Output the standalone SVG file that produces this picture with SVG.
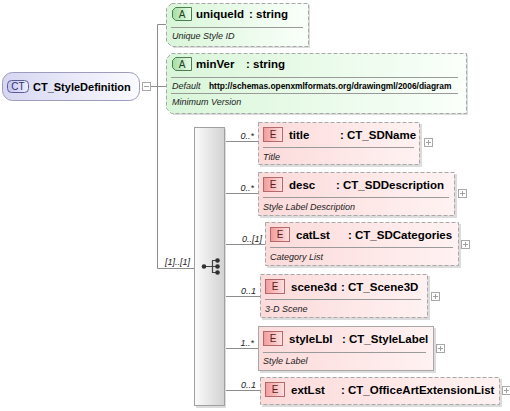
<svg xmlns="http://www.w3.org/2000/svg" width="510" height="411" viewBox="0 0 510 411">
<defs>
<linearGradient id="gElem" x1="0" y1="0" x2="1" y2="0"><stop offset="0" stop-color="#FCDADA"/><stop offset="1" stop-color="#FFF2F2"/></linearGradient>
<linearGradient id="gAttr" x1="0" y1="0" x2="1" y2="0"><stop offset="0" stop-color="#D9F6D9"/><stop offset="1" stop-color="#FAFFFA"/></linearGradient>
<linearGradient id="gRoot" x1="0" y1="0" x2="1" y2="0"><stop offset="0" stop-color="#D6D6F2"/><stop offset="1" stop-color="#FAFAFF"/></linearGradient>
<linearGradient id="gE" x1="0" y1="0" x2="1" y2="0"><stop offset="0" stop-color="#F29A9A"/><stop offset="1" stop-color="#FFE2E2"/></linearGradient>
<linearGradient id="gA" x1="0" y1="0" x2="1" y2="0"><stop offset="0" stop-color="#A4DCA4"/><stop offset="1" stop-color="#EAFFEA"/></linearGradient>
<linearGradient id="gCT" x1="0" y1="0" x2="1" y2="0"><stop offset="0" stop-color="#C4C4EE"/><stop offset="1" stop-color="#EEEEFF"/></linearGradient>
<linearGradient id="gSeq" x1="0" y1="0" x2="1" y2="0"><stop offset="0" stop-color="#FBFBFB"/><stop offset="1" stop-color="#D2D2D2"/></linearGradient>
</defs>
<style>
.t{font-family:"Liberation Sans",Arial,sans-serif;font-weight:bold;font-size:11.5px;fill:#000}
.d{font-family:"Liberation Sans",Arial,sans-serif;font-style:italic;font-size:9px;fill:#222}
.c{font-family:"Liberation Sans",Arial,sans-serif;font-style:italic;font-size:9px;fill:#222}
.u{font-family:"Liberation Sans",Arial,sans-serif;font-weight:bold;font-size:8.4px;fill:#000}
.bl{font-family:"Liberation Sans",Arial,sans-serif;font-size:10px;text-anchor:middle}
.eb{fill:url(#gElem);stroke:#A8A8A8;stroke-dasharray:4,2}
.es{fill:url(#gElem);stroke:#A8A8A8}
.ab{fill:url(#gAttr);stroke:#A8A8A8;stroke-dasharray:4,2}
.sh{fill:#DCDCDC}
.ln{stroke:#8C8C8C;stroke-width:1;fill:none}
.sep{stroke:#9A9A9A;stroke-width:1}
.ebadge{fill:url(#gE);stroke:#B46A6A}
.abadge{fill:url(#gA);stroke:#4E7E4E}
.pm{fill:#FFFFFF;stroke:#A8A8A8}
.pmi{stroke:#A0A0A0;stroke-width:1}
</style>

<g id="connectors">
<path class="ln" d="M150.5,86.5H157.5M157.5,24.5V268.5M157.5,24.5H166M157.5,86.5H166M157.5,268.5H194"/>
<path class="ln" d="M224,141.5H258M224,193.5H258M224,244.5H265M224,296.5H260M224,348.5H258M224,390.5H260"/>
<text class="c" x="190" y="265" text-anchor="end">[1]..[1]</text>
<text class="c" x="254" y="139" text-anchor="end">0..*</text>
<text class="c" x="254" y="191" text-anchor="end">0..*</text>
<text class="c" x="262" y="242" text-anchor="end">0..[1]</text>
<text class="c" x="256" y="294" text-anchor="end">0..1</text>
<text class="c" x="254" y="346" text-anchor="end">1..*</text>
<text class="c" x="256" y="388" text-anchor="end">0..1</text>
</g>

<g id="root">
<rect x="2.5" y="72.5" width="137" height="28" rx="10" fill="url(#gRoot)" stroke="#9C9CBC"/>
<rect x="7.5" y="80.5" width="21" height="12" rx="4" fill="url(#gCT)" stroke="#5C5C9C"/>
<text class="bl" x="18" y="90" fill="#30306A">CT</text>
<text class="t" x="33" y="90.5" style="font-size:11px">CT_StyleDefinition</text>
<rect class="pm" x="142.5" y="82.5" width="8" height="8"/>
<path class="pmi" d="M144,86.5H149"/>
</g>

<g id="uniqueId" transform="translate(166,3)">
<path class="sh" d="M7,2H144V45H7Z"/>
<path class="ab" d="M5.5,0.5H142.5V43.5H5.5L0.5,38.5V5.5Z"/>
<path class="abadge" d="M9.5,4.5H25.5V17.5H9.5L6.5,14.5V7.5Z"/>
<text class="bl" x="16" y="15" fill="#204020">A</text>
<text class="t" x="30" y="15">uniqueId</text>
<text class="t" x="83" y="15">: string</text>
<path class="sep" d="M5,24.5H137"/>
<text class="d" x="6" y="36">Unique Style ID</text>
</g>

<g id="minVer" transform="translate(166,53)">
<path class="sh" d="M7,2H302V62H7Z"/>
<path class="ab" d="M5.5,0.5H300.5V60.5H5.5L0.5,55.5V5.5Z"/>
<path class="abadge" d="M9.5,4.5H25.5V17.5H9.5L6.5,14.5V7.5Z"/>
<text class="bl" x="16" y="15" fill="#204020">A</text>
<text class="t" x="30" y="15">minVer</text>
<text class="t" x="80" y="15">: string</text>
<path class="sep" d="M5,24.5H292"/>
<text class="d" x="6" y="36">Default</text>
<text class="u" x="43" y="36">http://schemas.openxmlformats.org/drawingml/2006/diagram</text>
<path class="sep" d="M5,40.5H292"/>
<text class="d" x="6" y="52">Minimum Version</text>
</g>

<g id="sequence">
<rect x="196" y="129" width="30" height="279" fill="#DCDCDC"/>
<rect x="194.5" y="127.5" width="30" height="278" fill="url(#gSeq)" stroke="#A0A0A0"/>
<path d="M204,266.5H212.5M212.5,260V273M212.5,260.5H217M212.5,266.5H217M212.5,272.5H217" stroke="#404040" stroke-width="1.2" fill="none"/>
<circle cx="204" cy="266.5" r="2.3" fill="#303030"/>
<circle cx="217.5" cy="260.5" r="2.3" fill="#303030"/>
<circle cx="217.5" cy="266.5" r="2.3" fill="#303030"/>
<circle cx="217.5" cy="272.5" r="2.3" fill="#303030"/>
</g>

<g id="title" transform="translate(258,122)">
<rect class="sh" x="2" y="2" width="162" height="43"/>
<rect class="eb" x="0.5" y="0.5" width="161" height="42"/>
<rect class="ebadge" x="5.5" y="5.5" width="19" height="14"/>
<text class="bl" x="15" y="16" fill="#5A1E1E">E</text>
<text class="t" x="31" y="16.5">title</text>
<text class="t" x="82" y="16.5">: CT_SDName</text>
<path class="sep" d="M5,25.5H156"/>
<text class="d" x="5" y="38">Title</text>
<rect class="pm" x="166.5" y="16.5" width="8" height="8"/>
<path class="pmi" d="M168,20.5H173M170.5,18V23"/>
</g>

<g id="desc" transform="translate(258,172)">
<rect class="sh" x="2" y="2" width="197" height="44"/>
<rect class="eb" x="0.5" y="0.5" width="196" height="43"/>
<rect class="ebadge" x="5.5" y="5.5" width="19" height="14"/>
<text class="bl" x="15" y="16" fill="#5A1E1E">E</text>
<text class="t" x="31" y="16.5">desc</text>
<text class="t" x="78" y="16.5">: CT_SDDescription</text>
<path class="sep" d="M5,25.5H191"/>
<text class="d" x="5" y="38">Style Label Description</text>
<rect class="pm" x="200.5" y="17.5" width="8" height="8"/>
<path class="pmi" d="M202,21.5H207M204.5,19V24"/>
</g>

<g id="catLst" transform="translate(265,222)">
<rect class="sh" x="2" y="2" width="194" height="44"/>
<rect class="eb" x="0.5" y="0.5" width="193" height="43"/>
<rect class="ebadge" x="5.5" y="5.5" width="19" height="14"/>
<text class="bl" x="15" y="16" fill="#5A1E1E">E</text>
<text class="t" x="31" y="16.5">catLst</text>
<text class="t" x="83" y="16.5">: CT_SDCategories</text>
<path class="sep" d="M5,25.5H188"/>
<text class="d" x="5" y="38">Category List</text>
<rect class="pm" x="196.5" y="18.5" width="8" height="8"/>
<path class="pmi" d="M198,22.5H203M200.5,20V25"/>
</g>

<g id="scene3d" transform="translate(260,274)">
<rect class="sh" x="2" y="2" width="168" height="44"/>
<rect class="eb" x="0.5" y="0.5" width="167" height="43"/>
<rect class="ebadge" x="5.5" y="5.5" width="19" height="14"/>
<text class="bl" x="15" y="16" fill="#5A1E1E">E</text>
<text class="t" x="31" y="16.5">scene3d</text>
<text class="t" x="81" y="16.5">: CT_Scene3D</text>
<path class="sep" d="M5,25.5H161"/>
<text class="d" x="5" y="38">3-D Scene</text>
<rect class="pm" x="171.5" y="18.5" width="8" height="8"/>
<path class="pmi" d="M173,22.5H178M175.5,20V25"/>
</g>

<g id="styleLbl" transform="translate(258,326)">
<rect class="sh" x="2" y="2" width="176" height="45"/>
<rect class="es" x="0.5" y="0.5" width="175" height="44"/>
<rect class="ebadge" x="5.5" y="5.5" width="19" height="14"/>
<text class="bl" x="15" y="16" fill="#5A1E1E">E</text>
<text class="t" x="31" y="16.5">styleLbl</text>
<text class="t" x="84" y="16.5">: CT_StyleLabel</text>
<path class="sep" d="M5,26.5H168"/>
<text class="d" x="5" y="38">Style Label</text>
<rect class="pm" x="178.5" y="18.5" width="8" height="8"/>
<path class="pmi" d="M180,22.5H185M182.5,20V25"/>
</g>

<g id="extLst" transform="translate(260,377)">
<rect class="sh" x="2" y="2" width="240" height="28"/>
<rect class="eb" x="0.5" y="0.5" width="239" height="27"/>
<rect class="ebadge" x="5.5" y="5.5" width="19" height="14"/>
<text class="bl" x="15" y="16" fill="#5A1E1E">E</text>
<text class="t" x="31" y="16.5">extLst</text>
<text class="t" x="81" y="16.5">: CT_OfficeArtExtensionList</text>
<rect class="pm" x="242.5" y="9.5" width="8" height="8"/>
<path class="pmi" d="M244,13.5H249M246.5,11V16"/>
</g>
</svg>
